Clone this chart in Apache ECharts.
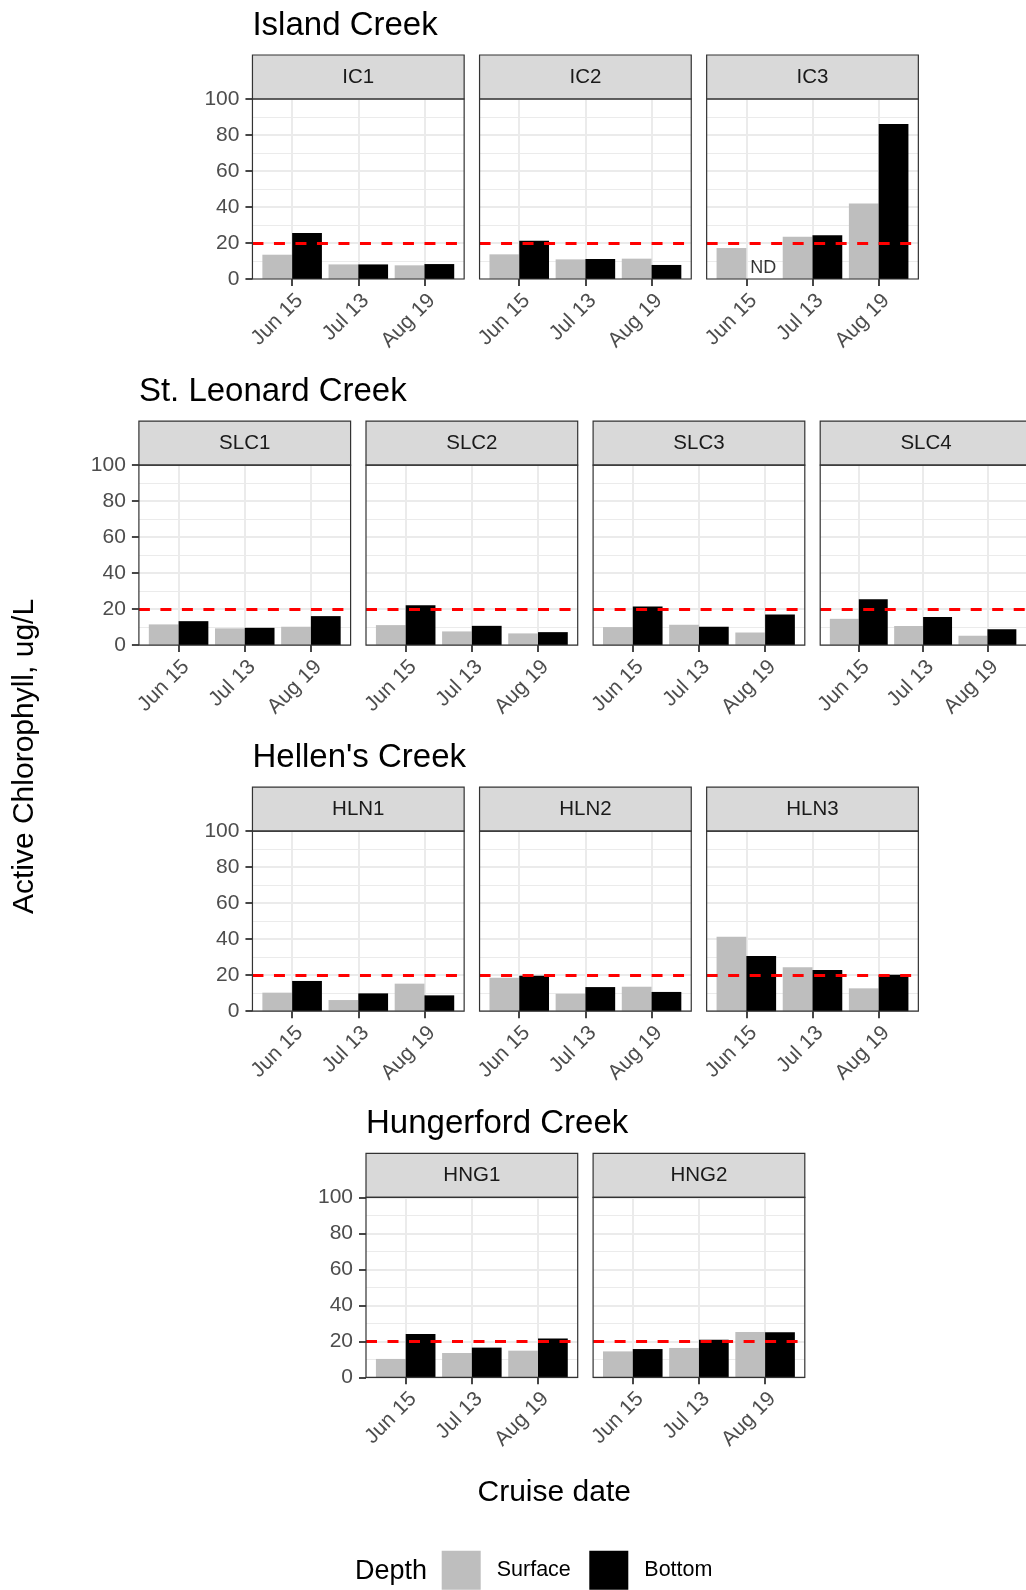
<!DOCTYPE html>
<html>
<head>
<meta charset="utf-8">
<script src="https://cdn.jsdelivr.net/npm/echarts@6/dist/echarts.min.js"></script>
<style>
  html, body { margin: 0; padding: 0; background: #ffffff; }
  #chart { width: 1026px; height: 1590px; }
</style>
</head>
<body>
<div id="chart"></div>
<script>
// Cruise dates on the x axis of every panel
const cruiseDates = ['Jun 15', 'Jul 13', 'Aug 19'];
const depthNames = ['Surface', 'Bottom'];
const yTickValues = [0, 20, 40, 60, 80, 100];
const threshold = 20;

// Creeks (one row each) and their stations (one panel each)
const creekNames = ['Island Creek', 'St. Leonard Creek', "Hellen's Creek", 'Hungerford Creek'];
const icStations = ['IC1', 'IC2', 'IC3'];
const slcStations = ['SLC1', 'SLC2', 'SLC3', 'SLC4'];
const hlnStations = ['HLN1', 'HLN2', 'HLN3'];
const hngStations = ['HNG1', 'HNG2'];

// Active chlorophyll (ug/L), one inner list per station, ordered by cruise date.
// null = no data (ND)
const icSurface = [[13.5, 8.1, 7.6], [13.7, 10.9, 11.3], [17.2, 23.5, 41.9]];
const icBottom = [[25.5, 8.1, 8.3], [21.3, 11.1, 7.8], [null, 24.3, 86.1]];
const slcSurface = [[11.5, 9.3, 10.2], [11.1, 7.6, 6.5], [10.0, 11.3, 7.0], [14.6, 10.6, 5.2]];
const slcBottom = [[13.3, 9.6, 16.1], [22.2, 10.7, 7.2], [21.5, 10.2, 17.0], [25.5, 15.6, 8.8]];
const hlnSurface = [[10.3, 6.2, 15.3], [18.6, 9.7, 13.6], [41.4, 24.4, 12.7]];
const hlnBottom = [[16.8, 9.9, 8.8], [19.7, 13.4, 10.7], [30.7, 22.9, 20.3]];
const hngSurface = [[10.2, 13.5, 14.8], [14.4, 16.3, 25.2]];
const hngBottom = [[24.1, 16.5, 21.5], [15.7, 20.9, 25.0]];

const rows = [
  { title: creekNames[0], stations: icStations, surface: icSurface, bottom: icBottom, colOffset: 0.5 },
  { title: creekNames[1], stations: slcStations, surface: slcSurface, bottom: slcBottom, colOffset: 0 },
  { title: creekNames[2], stations: hlnStations, surface: hlnSurface, bottom: hlnBottom, colOffset: 0.5 },
  { title: creekNames[3], stations: hngStations, surface: hngSurface, bottom: hngBottom, colOffset: 1 }
];

// Layout
const FONT = '"Liberation Sans", Arial, Helvetica, sans-serif';
const PANEL_W = 211.7, PANEL_H = 180, STRIP_H = 44;
const COL_PITCH = 227.1, ROW_PITCH = 366.1;
const BASE_LEFT = 138.9, FIRST_STRIP_TOP = 55;
const BAR_FRACTION = 0.45;      // width of one bar, in category units
const ND_Y = 6.2;               // height of the "ND" note inside a panel
const TICK_FONT = 21;
const COLORS = { Surface: '#BEBEBE', Bottom: '#000000' };

const grids = [], xAxes = [], yAxes = [], series = [], graphics = [];
let k = 0;

rows.forEach((row, r) => {
  const stripTop = FIRST_STRIP_TOP + r * ROW_PITCH;
  const panelTop = stripTop + STRIP_H;
  const rowLeft = BASE_LEFT + row.colOffset * COL_PITCH;

  graphics.push({
    type: 'text', x: rowLeft, y: stripTop - 29.5, z: 100,
    style: { text: row.title, fontSize: 33, fontFamily: FONT, fill: '#000', align: 'left', verticalAlign: 'middle' }
  });

  row.stations.forEach((name, c) => {
    const left = rowLeft + c * COL_PITCH;
    const firstCol = c === 0;

    grids.push({ left: left, top: panelTop, width: PANEL_W, height: PANEL_H, show: false });

    xAxes.push({
      gridIndex: k, type: 'value', min: 0.4, max: 3.6,
      axisLine: { show: false },
      axisTick: { show: true, customValues: [1, 2, 3], length: 7, lineStyle: { color: '#333333', width: 1.8 } },
      axisLabel: {
        show: true, customValues: [1, 2, 3],
        formatter: v => cruiseDates[Math.round(v) - 1] || '',
        rotate: 45, align: 'right', verticalAlign: 'top', margin: 11,
        fontSize: TICK_FONT, fontFamily: FONT, color: '#4D4D4D'
      },
      splitLine: { show: true, lineStyle: { color: '#EBEBEB', width: 2 } }
    });

    yAxes.push({
      gridIndex: k, type: 'value', min: yTickValues[0], max: yTickValues[yTickValues.length - 1], interval: 20,
      axisLine: { show: false },
      axisTick: { show: firstCol, length: 7, lineStyle: { color: '#333333', width: 1.8 } },
      axisLabel: { show: firstCol, margin: 13, fontSize: TICK_FONT, fontFamily: FONT, color: '#4D4D4D' },
      splitLine: { show: true, lineStyle: { color: '#EBEBEB', width: 2 } },
      minorTick: { show: false, splitNumber: 2 },
      minorSplitLine: { show: true, lineStyle: { color: '#EBEBEB', width: 1 } }
    });

    const surf = row.surface[c], bot = row.bottom[c];

    series.push({
      type: 'bar', name: depthNames[0], xAxisIndex: k, yAxisIndex: k,
      data: surf.map((v, i) => [i + 1, v]),
      barWidth: (BAR_FRACTION * 100) + '%', barGap: '0%',
      itemStyle: { color: COLORS.Surface }, silent: true
    });

    series.push({
      type: 'bar', name: depthNames[1], xAxisIndex: k, yAxisIndex: k,
      data: bot.map((v, i) => [i + 1, v]),
      barWidth: (BAR_FRACTION * 100) + '%', barGap: '0%',
      itemStyle: { color: COLORS.Bottom }, silent: true,
      markLine: {
        silent: true, symbol: 'none', z: 10,
        label: { show: false },
        lineStyle: { color: '#FF0000', type: [11, 10.5], width: 2.8 },
        data: [{ yAxis: threshold }]
      }
    });

    // "ND" where a bottom sample has no value
    const missing = bot.map((v, i) => v == null ? [i + 1 + BAR_FRACTION / 2, ND_Y] : null).filter(Boolean);
    if (missing.length) {
      series.push({
        type: 'scatter', name: 'ND', xAxisIndex: k, yAxisIndex: k,
        data: missing, symbolSize: 0, silent: true,
        label: { show: true, position: 'inside', formatter: 'ND', fontSize: 18, fontFamily: FONT, color: '#000', offset: [2, 0] }
      });
    }

    // strip with station name
    graphics.push({
      type: 'rect', z: 90,
      shape: { x: left, y: stripTop, width: PANEL_W, height: STRIP_H },
      style: { fill: '#D9D9D9', stroke: '#333333', lineWidth: 1.2 }
    });
    graphics.push({
      type: 'text', z: 91, x: left + PANEL_W / 2, y: stripTop + STRIP_H / 2,
      style: { text: name, fontSize: 20.5, fontFamily: FONT, fill: '#1A1A1A', align: 'center', verticalAlign: 'middle' }
    });
    // panel border drawn over the data
    graphics.push({
      type: 'rect', z: 95,
      shape: { x: left, y: panelTop, width: PANEL_W, height: PANEL_H },
      style: { fill: null, stroke: '#333333', lineWidth: 1.2 }
    });

    k++;
  });
});

// axis titles and legend title
graphics.push({
  type: 'text', x: 25, y: 756.5, rotation: Math.PI / 2, z: 100,
  style: { text: 'Active Chlorophyll, ug/L', fontSize: 30, fontFamily: FONT, fill: '#000', align: 'center', verticalAlign: 'middle' }
});
graphics.push({
  type: 'text', x: 554.2, y: 1492.5, z: 100,
  style: { text: 'Cruise date', fontSize: 30, fontFamily: FONT, fill: '#000', align: 'center', verticalAlign: 'middle' }
});
graphics.push({
  type: 'text', x: 355, y: 1572, z: 100,
  style: { text: 'Depth', fontSize: 27, fontFamily: FONT, fill: '#000', align: 'left', verticalAlign: 'middle' }
});

const legendBase = {
  top: 1550.7, itemWidth: 39, itemHeight: 39, icon: 'rect', padding: 0,
  selectedMode: false,
  textStyle: { fontSize: 21.5, fontFamily: FONT, color: '#000', padding: [8, 0, 0, 11] }
};

const chart = echarts.init(document.getElementById('chart'), null, { renderer: 'canvas' });
chart.setOption({
  animation: false,
  backgroundColor: '#ffffff',
  textStyle: { fontFamily: FONT },
  grid: grids,
  xAxis: xAxes,
  yAxis: yAxes,
  series: series,
  legend: [
    Object.assign({}, legendBase, { data: [depthNames[0]], left: 441.7 }),
    Object.assign({}, legendBase, { data: [depthNames[1]], left: 589.3 })
  ],
  graphic: graphics
});
</script>
</body>
</html>
